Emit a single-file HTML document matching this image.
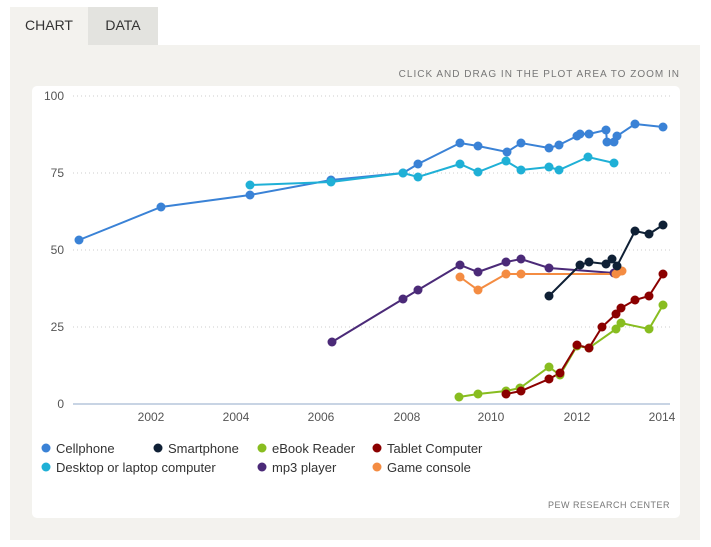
<!DOCTYPE html>
<html><head><meta charset="utf-8"><style>
body{margin:0;width:711px;height:547px;background:#fff;font-family:"Liberation Sans",sans-serif;position:relative;overflow:hidden}
.bg{position:absolute;left:10px;top:45px;width:690px;height:495px;background:#f3f2ee}
.tab1{position:absolute;left:10px;top:7px;width:78px;height:38px;background:#f3f2ee;font-size:14px;color:#333;text-align:center;line-height:36px}
.tab2{position:absolute;left:88px;top:7px;width:70px;height:38px;background:#e3e3df;font-size:14px;color:#333;text-align:center;line-height:36px}
.card{position:absolute;left:32px;top:86px;width:648px;height:432px;background:#fff;border-radius:5px}
.hint{position:absolute;right:31px;top:69px;font-size:10px;letter-spacing:1px;color:#777}
</style></head><body>
<div class="bg"></div><div class="tab1">CHART</div><div class="tab2">DATA</div>
<div class="hint">CLICK AND DRAG IN THE PLOT AREA TO ZOOM IN</div>
<div class="card"></div>
<svg width="711" height="547" style="position:absolute;left:0;top:0" font-family="Liberation Sans, sans-serif">
<g stroke="#ccc" stroke-dasharray="1,3"><line x1="73" x2="670" y1="96" y2="96"/><line x1="73" x2="670" y1="173" y2="173"/><line x1="73" x2="670" y1="250" y2="250"/><line x1="73" x2="670" y1="327" y2="327"/></g>
<line x1="73" x2="670" y1="404" y2="404" stroke="#c8d4e4" stroke-width="2"/>
<g font-size="12" fill="#555" text-anchor="end"><text x="64" y="100">100</text><text x="64" y="177">75</text><text x="64" y="254">50</text><text x="64" y="331">25</text><text x="64" y="408">0</text></g>
<g font-size="12" fill="#555" text-anchor="middle"><text x="151" y="421">2002</text><text x="236" y="421">2004</text><text x="321" y="421">2006</text><text x="407" y="421">2008</text><text x="491" y="421">2010</text><text x="577" y="421">2012</text><text x="662" y="421">2014</text></g>
<g fill="none" stroke-width="2">
<polyline stroke="#3a82d6" points="79,240 161,207 250,195 331,180 403,173 418,164 460,143 478,146 507,152 521,143 549,148 559,145 577,136 580,134 589,134 606,130 607,142 614,142 617,136 635,124 663,127"/>
<polyline stroke="#1fb0d6" points="250,185 331,182 403,173 418,177 460,164 478,172 506,161 521,170 549,167 559,170 588,157 614,163"/>
<polyline stroke="#4b2a78" points="332,342 403,299 418,290 460,265 478,272 506,262 521,259 549,268 614,273"/>
<polyline stroke="#f48c42" points="460,277 478,290 506,274 521,274 616,274 618,272 622,271"/>
<polyline stroke="#0f2035" points="549,296 580,265 589,262 606,264 612,259 617,266 635,231 649,234 663,225"/>
<polyline stroke="#88bd20" points="459,397 478,394 506,391 520,388 549,367 560,375 577,346 589,348 616,329 621,323 649,329 663,305"/>
<polyline stroke="#8b0000" points="506,394 521,391 549,379 560,373 577,345 589,348 602,327 616,314 621,308 635,300 649,296 663,274"/>
</g>
<g id="d"></g>
<g font-size="13" fill="#333">
<circle cx="46" cy="448" r="4.5" fill="#3a82d6"/><text x="56" y="453">Cellphone</text>
<circle cx="158" cy="448" r="4.5" fill="#0f2035"/><text x="168" y="453">Smartphone</text>
<circle cx="262" cy="448" r="4.5" fill="#88bd20"/><text x="272" y="453">eBook Reader</text>
<circle cx="377" cy="448" r="4.5" fill="#8b0000"/><text x="387" y="453">Tablet Computer</text>
<circle cx="46" cy="467" r="4.5" fill="#1fb0d6"/><text x="56" y="472">Desktop or laptop computer</text>
<circle cx="262" cy="467" r="4.5" fill="#4b2a78"/><text x="272" y="472">mp3 player</text>
<circle cx="377" cy="467" r="4.5" fill="#f48c42"/><text x="387" y="472">Game console</text>
</g>
<text x="670" y="508" font-size="9" fill="#777" text-anchor="end" letter-spacing="0.5">PEW RESEARCH CENTER</text>
</svg>
<script>
var s={"#3a82d6":"79,240 161,207 250,195 331,180 403,173 418,164 460,143 478,146 507,152 521,143 549,148 559,145 577,136 580,134 589,134 606,130 607,142 614,142 617,136 635,124 663,127","#1fb0d6":"250,185 331,182 403,173 418,177 460,164 478,172 506,161 521,170 549,167 559,170 588,157 614,163","#4b2a78":"332,342 403,299 418,290 460,265 478,272 506,262 521,259 549,268 614,273","#f48c42":"460,277 478,290 506,274 521,274 616,274 618,272 622,271","#0f2035":"549,296 580,265 589,262 606,264 612,259 617,266 635,231 649,234 663,225","#88bd20":"459,397 478,394 506,391 520,388 549,367 560,375 577,346 589,348 616,329 621,323 649,329 663,305","#8b0000":"506,394 521,391 549,379 560,373 577,345 589,348 602,327 616,314 621,308 635,300 649,296 663,274"};
var g=document.getElementById("d"),h="";
for(var c in s){s[c].split(" ").forEach(function(p){var a=p.split(",");h+='<circle cx="'+a[0]+'" cy="'+a[1]+'" r="4.5" fill="'+c+'"/>';});}
g.innerHTML=h;
</script>
</body></html>
